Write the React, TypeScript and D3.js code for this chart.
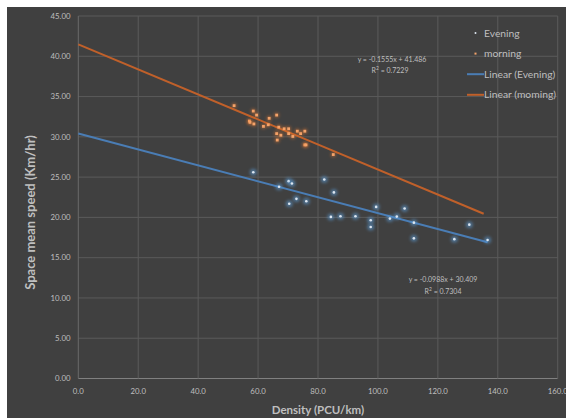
import React from "react";
import * as d3 from "d3";

const morningX = [52.0, 58.4, 59.5, 57.1, 57.3, 58.6, 61.8, 63.7, 63.4, 66.2, 66.9, 68.7, 70.2, 66.2, 67.6, 66.4, 70.2, 71.6, 73.1, 74.2, 75.6, 75.6, 76.0, 85.1];
const morningY = [33.87, 33.2, 32.7, 31.96, 31.8, 31.6, 31.3, 32.3, 31.5, 32.7, 31.2, 31.0, 31.0, 30.4, 30.2, 29.6, 30.4, 30.05, 30.7, 30.4, 30.7, 29.0, 29.0, 27.8];
const eveningX = [58.4, 67.0, 70.2, 71.3, 70.4, 72.8, 76.1, 82.1, 85.3, 84.3, 87.5, 92.5, 97.6, 97.6, 99.4, 104.0, 106.3, 108.9, 112.0, 112.0, 125.5, 130.5, 136.6];
const eveningY = [25.6, 23.8, 24.5, 24.2, 21.7, 22.3, 22.0, 24.7, 23.1, 20.06, 20.15, 20.15, 19.65, 18.8, 21.3, 19.85, 20.1, 21.1, 19.35, 17.4, 17.3, 19.1, 17.2];

const morningTrend = { slope: -0.1555, intercept: 41.486, r2: "0.7229", range: [0, 135.3] };
const eveningTrend = { slope: -0.0988, intercept: 30.409, r2: "0.7304", range: [0, 136.6] };

const xTicks = [0, 20, 40, 60, 80, 100, 120, 140, 160];
const yTicks = [0, 5, 10, 15, 20, 25, 30, 35, 40, 45];
const legendLabels = ["Evening", "morning", "Linear (Evening)", "Linear (moming)"];

const W = 566, H = 418;
const FONT = "Lato, 'Open Sans', sans-serif";
const TEXT = "#bfbfbf";
const GRID = "#5a5a5a";
const ORANGE_LINE = "#c0602a";
const BLUE_LINE = "#4a7db5";

export default function App() {
  const x = d3.scaleLinear().domain([0, 160]).range([78.3, 557.7]);
  const y = d3.scaleLinear().domain([0, 45]).range([378.5, 16]);

  const trendPath = (t: typeof morningTrend) =>
    d3.line<number>()
      .x((d) => x(d))
      .y((d) => y(t.slope * d + t.intercept))(t.range);

  return (
    <svg
      width={W}
      height={H}
      style={{ position: "absolute", left: 0, top: 0, background: "#fff" }}
      fontFamily={FONT}
    >
      <defs>
        <filter id="glow" x="-2" y="-2" width="5" height="5">
          <feGaussianBlur stdDeviation="1.6" />
        </filter>
      </defs>
      <rect x={7} y={7} width={W - 7} height={H - 7} fill="#404040" />

      {yTicks.map((t) => (
        <line key={"gy" + t} x1={x(0)} x2={x(160)} y1={y(t)} y2={y(t)} stroke={t === 0 ? "#808080" : GRID} strokeWidth={1} />
      ))}
      {xTicks.map((t) => (
        <line key={"gx" + t} x1={x(t)} x2={x(t)} y1={y(0)} y2={y(45)} stroke={t === 0 ? "#6a6a6a" : GRID} strokeWidth={1} />
      ))}

      {yTicks.map((t) => (
        <text key={"ty" + t} x={70.5} y={y(t) + 2.8} textAnchor="end" fontSize={7.8} fill={TEXT}>
          {d3.format(".2f")(t)}
        </text>
      ))}
      {xTicks.map((t) => (
        <text key={"tx" + t} x={x(t)} y={394} textAnchor="middle" fontSize={7.8} fill={TEXT}>
          {d3.format(".1f")(t)}
        </text>
      ))}

      <text x={318} y={414} textAnchor="middle" fontSize={11.5} fontWeight="bold" fill={TEXT}>
        Density (PCU/km)
      </text>
      <text
        transform={`translate(34.5,212.5) rotate(-90)`}
        textAnchor="middle"
        fontSize={13}
        fontWeight="bold"
        fill={TEXT}
      >
        Space mean speed (Km/hr)
      </text>

      <path d={trendPath(morningTrend) || ""} stroke={ORANGE_LINE} strokeWidth={2} fill="none" />
      <path d={trendPath(eveningTrend) || ""} stroke={BLUE_LINE} strokeWidth={2} fill="none" />

      {eveningX.map((d, i) => (
        <g key={"e" + i}>
          <circle cx={x(d)} cy={y(eveningY[i])} r={3.5} fill="#5b9bd5" opacity={0.55} filter="url(#glow)" />
          <circle cx={x(d)} cy={y(eveningY[i])} r={1.3} fill="#dde6f0" />
        </g>
      ))}
      {morningX.map((d, i) => (
        <g key={"m" + i}>
          <circle cx={x(d)} cy={y(morningY[i])} r={2.6} fill="#ed7d31" opacity={0.45} filter="url(#glow)" />
          <rect x={x(d) - 1.4} y={y(morningY[i]) - 1.4} width={2.8} height={2.8} fill="#f4a36a" />
        </g>
      ))}

      <g fontSize={7} fill={TEXT} textAnchor="middle">
        <text x={392} y={62}>{`y = ${morningTrend.slope}x + ${morningTrend.intercept}`}</text>
        <text x={390} y={73}>
          R<tspan fontSize={5} dy={-3}>2</tspan>
          <tspan dy={3}>{` = ${morningTrend.r2}`}</tspan>
        </text>
        <text x={443} y={282}>{`y = ${eveningTrend.slope}x + ${eveningTrend.intercept}`}</text>
        <text x={443} y={294}>
          R<tspan fontSize={5} dy={-3}>2</tspan>
          <tspan dy={3}>{` = ${eveningTrend.r2}`}</tspan>
        </text>
      </g>

      <g fontSize={10.3} fill={TEXT}>
        {legendLabels.map((lab, i) => {
          const ly = 33 + i * 20.6;
          return (
            <g key={lab}>
              {i === 0 && <circle cx={475.5} cy={ly} r={1} fill="#dde6f0" />}
              {i === 1 && <rect x={474.5} y={ly - 1} width={2} height={2} fill="#f4a36a" />}
              {i >= 2 && (
                <line x1={467} x2={484} y1={ly} y2={ly} stroke={i === 2 ? BLUE_LINE : ORANGE_LINE} strokeWidth={2} />
              )}
              <text x={484} y={ly + 3.6}>{lab}</text>
            </g>
          );
        })}
      </g>
    </svg>
  );
}
